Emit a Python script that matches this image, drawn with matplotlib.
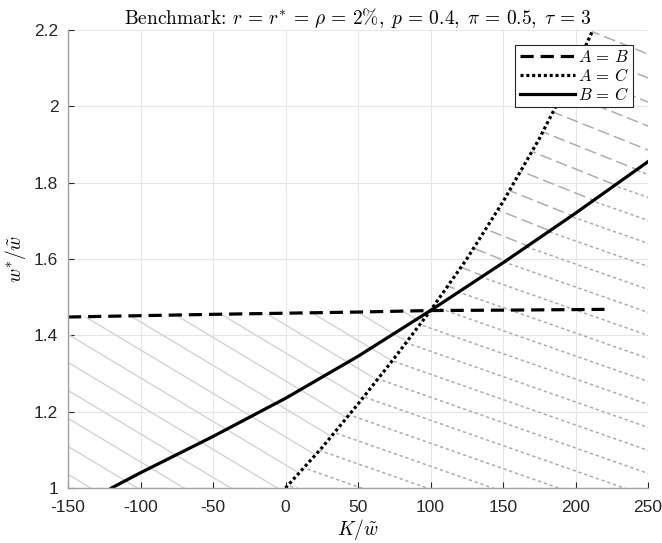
import numpy as np
import matplotlib
matplotlib.use("Agg")
import matplotlib.pyplot as plt
from matplotlib.patches import Polygon

plt.rcParams["mathtext.fontset"] = "cm"
plt.rcParams["font.family"] = ["Liberation Sans", "DejaVu Sans"]
plt.rcParams["lines.scale_dashes"] = False

# curves
k_ab = [-150, -50, 50, 100, 150, 220]
w_ab = [1.448, 1.455, 1.461, 1.465, 1.466, 1.468]

k_ac = [0, 25, 50, 75, 100, 125, 150, 175, 200, 212]
w_ac = [1.0, 1.105, 1.22, 1.34, 1.465, 1.60, 1.75, 1.915, 2.10, 2.20]

k_bc = [-120, -100, -50, 0, 50, 100, 150, 200, 250]
w_bc = [1.0, 1.04, 1.135, 1.235, 1.345, 1.465, 1.59, 1.72, 1.855]

xticks = [-150, -100, -50, 0, 50, 100, 150, 200, 250]
yticks = [1, 1.2, 1.4, 1.6, 1.8, 2, 2.2]
xlim = (-150, 250)
ylim = (1, 2.2)

fig = plt.figure(figsize=(6.62, 5.43), dpi=100)
ax = fig.add_axes([68 / 662, 1 - 488 / 543, 580 / 662, 458 / 543])
ax.set_xlim(*xlim)
ax.set_ylim(*ylim)

# pixels per data unit, used to lay hatch lines out in screen terms
px_k = 580 / (xlim[1] - xlim[0])
px_w = 458 / (ylim[1] - ylim[0])


def hatch(verts, slope_px, step_px, x0_px, y0_px, **kw):
    # parallel lines going down to the right, clipped to a polygon
    poly = Polygon(verts, closed=True, fill=False, edgecolor="none")
    ax.add_patch(poly)
    m = -slope_px * px_k / px_w
    dy = step_px / px_w
    # anchor line through the given pixel position
    k0 = xlim[0] + (x0_px - 68) / px_k
    w0 = ylim[0] + (488 - y0_px) / px_w
    b0 = w0 - m * k0
    ks = np.array([xlim[0] - 10, xlim[1] + 10])
    for i in range(-60, 60):
        b = b0 + i * dy
        ln, = ax.plot(ks, m * ks + b, **kw)
        ln.set_clip_path(poly)


# region 1: left of A=C, below A=B
i_ab = k_ab.index(100)
i_ac = k_ac.index(100)
i_bc = k_bc.index(100)
r1 = list(zip(k_ab[:i_ab + 1], w_ab[:i_ab + 1]))
r1 += list(zip(k_ac[i_ac::-1], w_ac[i_ac::-1]))
r1 += [(xlim[0], ylim[0])]
hatch(r1, 0.6, 28, 89, 487, color="#d6d6d6", lw=1.1, solid_capstyle="butt")

# region 2: right of A=C, below B=C
r2 = list(zip(k_ac[:i_ac + 1], w_ac[:i_ac + 1]))
r2 += list(zip(k_bc[i_bc:], w_bc[i_bc:]))
r2 += [(xlim[1], ylim[0])]
hatch(r2, 0.35, 23, 547, 484, color="#adadad", lw=1.1,
      linestyle=(0, (2.4, 2.0)), dash_capstyle="butt")

# region 3: right of A=C, above B=C
r3 = list(zip(k_ac[i_ac:], w_ac[i_ac:]))
r3 += [(xlim[1], ylim[1])]
r3 += list(zip(k_bc[:i_bc - 1:-1], w_bc[:i_bc - 1:-1]))
hatch(r3, 0.40, 24, 553, 112, color="#adadad", lw=1.1,
      linestyle=(0, (8.5, 3.6)), dash_capstyle="butt")

ax.plot(k_ab, w_ab, color="black", lw=2.3, linestyle=(0, (9.5, 5.0)),
        dash_capstyle="butt", label=r"$A\,=\,B$")
ax.plot(k_ac, w_ac, color="black", lw=2.3, linestyle=(0, (2.2, 2.0)),
        dash_capstyle="butt", label=r"$A\,=\,C$", clip_on=False)
ax.plot(k_bc, w_bc, color="black", lw=2.3, label=r"$B\,=\,C$")

ax.set_xticks(xticks)
ax.set_yticks(yticks)
ax.set_xticklabels([f"{v:g}" for v in xticks])
ax.set_yticklabels([f"{v:g}" for v in yticks])
ax.grid(True, color="#e6e6e6", lw=0.8)
ax.set_axisbelow(True)
ax.tick_params(direction="in", length=4, labelsize=12.5, colors="#262626",
               top=False, right=False)
ax.tick_params(axis="x", pad=9)
ax.tick_params(axis="y", pad=7)
for s in ("top", "right"):
    ax.spines[s].set_visible(False)
for s in ("left", "bottom"):
    ax.spines[s].set_color("#a0a0a0")
    ax.spines[s].set_linewidth(1.0)

ax.set_xlabel(r"$K/\tilde{w}$", fontsize=14, labelpad=1)
ax.set_ylabel(r"$w^{*}/\tilde{w}$", fontsize=14, labelpad=4)
ax.set_title(r"Benchmark: $r\,=\,r^{*}\,=\,\rho\,=\,2\%,\;p\,=\,0.4,\;"
             r"\pi\,=\,0.5,\;\tau\,=\,3$",
             fontsize=14, fontfamily="cmr10", pad=3)

leg = ax.legend(loc="upper right", fontsize=12, handlelength=3.3,
                borderpad=0.25, labelspacing=0.1, handletextpad=0.2,
                borderaxespad=0.9, fancybox=False, framealpha=1)
leg.get_frame().set_edgecolor("#262626")
leg.get_frame().set_linewidth(0.8)

fig.savefig("out.png", dpi=100)
